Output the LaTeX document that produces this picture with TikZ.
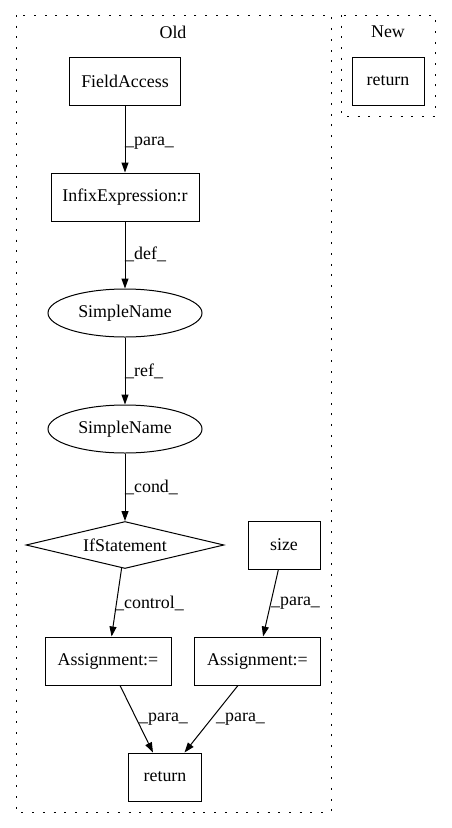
\documentclass[tikz,border=0pt]{standalone}
\usepackage{fontspec}
\setmainfont{Liberation Serif}
\usetikzlibrary{shapes.geometric,arrows.meta}
\begin{document}
\begin{tikzpicture}[x=1pt,y=-1pt,
  font=\fontsize{17.9}{20}\selectfont,
  box/.style={draw,line width=1pt,rectangle,inner sep=0pt},
  ell/.style={draw,line width=1pt,ellipse,inner sep=0pt,minimum width=154pt,minimum height=48pt},
  dia/.style={draw,line width=1pt,diamond,aspect=4.2,inner sep=0pt,minimum width=198pt,minimum height=47pt},
  cluster/.style={draw,line width=1pt,dash pattern=on 2pt off 8.7pt},
  edge/.style={draw,line width=1pt,-{Triangle[length=10pt,width=7pt]}},
  elab/.style={anchor=west,inner sep=0pt}]
\useasboundingbox (0,0) rectangle (451,828);
\draw[cluster] (16,15) rectangle (331,812);
\draw[cluster] (341,15) rectangle (435,116);
\node (oldlab) at (173,32) {Old};
\node (newlab) at (388,32) {New};
\node[box,minimum width=111pt,minimum height=48pt] (fa) at (125,81) {FieldAccess};
\node[box,minimum width=72pt,minimum height=48pt] (nret) at (388,81) {return};
\node[box,minimum width=148pt,minimum height=48pt] (infix) at (125,197) {InfixExpression:r};
\node[ell] (sn1) at (125,313) {SimpleName};
\node[ell] (sn2) at (125,429) {SimpleName};
\node[dia] (ifs) at (125,545) {IfStatement};
\node[box,minimum width=72pt,minimum height=48pt] (size) at (284,545) {size};
\node[box,minimum width=126pt,minimum height=48pt] (as1) at (108,661) {Assignment:=};
\node[box,minimum width=126pt,minimum height=48pt] (as2) at (257.5,661) {Assignment:=};
\node[box,minimum width=73pt,minimum height=48pt] (ret) at (165,777) {return};
\draw[edge] (fa) -- (infix);
\draw[edge] (infix) -- (sn1);
\draw[edge] (sn1) -- (sn2);
\draw[edge] (sn2) -- (ifs);
\draw[edge] (ifs) -- (as1);
\draw[edge] (size) -- (as2);
\draw[edge] (as1) -- (ret);
\draw[edge] (as2) -- (ret);
\node[elab] (l1) at (125,143) {\_para\_};
\node[elab] (l2) at (125,254) {\_def\_};
\node[elab] (l3) at (125,371) {\_ref\_};
\node[elab] (l4) at (125,487) {\_cond\_};
\node[elab] (l5) at (115,603) {\_control\_};
\node[elab] (l6) at (271,603) {\_para\_};
\node[elab] (l7) at (139,719) {\_para\_};
\node[elab] (l8) at (216,719) {\_para\_};
\end{tikzpicture}
\end{document}
